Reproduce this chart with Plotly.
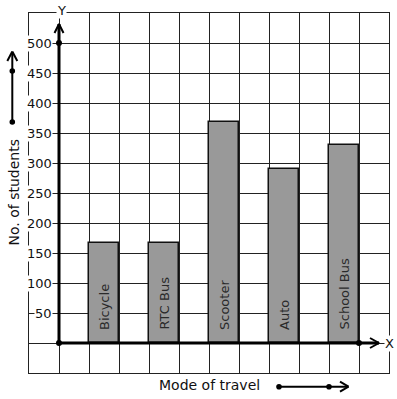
import plotly.graph_objects as go

# ---- data ----
categories = ["Bicycle", "RTC Bus", "Scooter", "Auto", "School Bus"]
students = [167, 167, 368, 290, 330]
y_tick_values = [50, 100, 150, 200, 250, 300, 350, 400, 450, 500]
y_tick_labels = ["50", "100", "150", "200", "250", "300", "350", "400", "450", "500"]
x_title = "Mode of travel"
y_title = "No. of students"

FONT = "DejaVu Sans"
W, H = 397, 399
ML, MR, MT, MB = 29, 8, 13, 26
X_RANGE = [-1, 11]
Y_RANGE = [-50, 550]

# pixel helpers (for decorations only)
pw = W - ML - MR
ph = H - MT - MB
def dx(px):
    return X_RANGE[0] + (px - ML) / pw * (X_RANGE[1] - X_RANGE[0])
def dy(py):
    return Y_RANGE[1] - (py - MT) / ph * (Y_RANGE[1] - Y_RANGE[0])
def xs(px_len):
    return px_len / pw * (X_RANGE[1] - X_RANGE[0])
def ys(px_len):
    return px_len / ph * (Y_RANGE[1] - Y_RANGE[0])
def px_(px):
    return (px - ML) / pw
def py_(py):
    return 1 - (py - MT) / ph

positions = [1.5 + 2 * i for i in range(len(categories))]

fig = go.Figure()
fig.add_trace(go.Bar(
    x=positions, y=students, width=1,
    marker=dict(color="#999999", line=dict(color="#111111", width=1.5)),
    hoverinfo="skip", showlegend=False,
))

line_kw = dict(mode="lines", hoverinfo="skip", showlegend=False, cliponaxis=False)
black = "#000000"

# y axis with arrow
y_tip = dy(24)
fig.add_trace(go.Scatter(x=[0, 0], y=[0, y_tip], line=dict(color=black, width=3), **line_kw))
fig.add_trace(go.Scatter(x=[-xs(4.5), 0, xs(4.5)], y=[y_tip - ys(9), y_tip, y_tip - ys(9)],
                         line=dict(color=black, width=2), **line_kw))
# x axis with arrow
x_tip = dx(379)
fig.add_trace(go.Scatter(x=[0, x_tip], y=[0, 0], line=dict(color=black, width=3), **line_kw))
fig.add_trace(go.Scatter(x=[x_tip - xs(9), x_tip, x_tip - xs(9)], y=[ys(5), 0, -ys(5)],
                         line=dict(color=black, width=2), **line_kw))
# dots
fig.add_trace(go.Scatter(x=[0, 0, 10], y=[0, 500, 0], mode="markers",
                         marker=dict(color=black, size=6), hoverinfo="skip",
                         showlegend=False, cliponaxis=False))

shapes = []
def seg(x0, y0, x1, y1, w=2):
    shapes.append(dict(type="line", xref="paper", yref="paper",
                       x0=px_(x0), y0=py_(y0), x1=px_(x1), y1=py_(y1),
                       line=dict(color=black, width=w), layer="above"))
def dot(x, y, r=2.8):
    shapes.append(dict(type="circle", xref="paper", yref="paper",
                       x0=px_(x - r), x1=px_(x + r), y0=py_(y + r), y1=py_(y - r),
                       fillcolor=black, line=dict(color=black, width=0), layer="above"))

# left decorative arrow
seg(12.3, 122, 12.3, 52)
seg(7.3, 61, 12.3, 51.5)
seg(17.3, 61, 12.3, 51.5)
dot(12.3, 122)
dot(12.3, 71)
# bottom decorative arrow
seg(279, 386.7, 348.5, 386.7)
seg(340, 381.7, 348.5, 386.7)
seg(340, 391.7, 348.5, 386.7)
dot(279, 386.7)
dot(329, 386.7)

annotations = []
for v, lab in zip(y_tick_values, y_tick_labels):
    annotations.append(dict(x=dx(53), y=v, xref="x", yref="y", text=lab, showarrow=False,
                            xanchor="right", yanchor="middle", bgcolor="white", borderpad=0,
                            font=dict(family=FONT, size=13, color="#111111")))
for xp, cat in zip(positions, categories):
    annotations.append(dict(x=xp, y=dy(332), xref="x", yref="y", text=cat, showarrow=False,
                            textangle=-90, xanchor="center", yanchor="bottom",
                            font=dict(family=FONT, size=13, color="#2a2a2a")))
annotations.append(dict(x=px_(61), y=py_(10), xref="paper", yref="paper", text="Y", showarrow=False,
                        xanchor="center", yanchor="middle", bgcolor="white", borderpad=0,
                        font=dict(family=FONT, size=13, color="#111111")))
annotations.append(dict(x=dx(389), y=0, xref="x", yref="y", text="X", showarrow=False,
                        xanchor="center", yanchor="middle", bgcolor="white", borderpad=0,
                        font=dict(family=FONT, size=13, color="#111111")))
annotations.append(dict(x=px_(209), y=py_(385), xref="paper", yref="paper", text=x_title,
                        showarrow=False, xanchor="center", yanchor="middle",
                        font=dict(family=FONT, size=14, color="#111111")))
annotations.append(dict(x=px_(13), y=py_(192.5), xref="paper", yref="paper", text=y_title,
                        showarrow=False, textangle=-90, xanchor="center", yanchor="middle",
                        font=dict(family=FONT, size=14, color="#111111")))

grid = "#222222"
fig.update_layout(
    width=W, height=H,
    margin=dict(l=ML, r=MR, t=MT, b=MB, pad=0),
    paper_bgcolor="white", plot_bgcolor="white",
    font=dict(family=FONT, size=13),
    xaxis=dict(range=X_RANGE, tick0=0, dtick=1, showgrid=True, gridcolor=grid, gridwidth=1,
               zeroline=False, showticklabels=False, ticks="", showline=True, mirror=True,
               linecolor=grid, linewidth=1, fixedrange=True),
    yaxis=dict(range=Y_RANGE, tick0=0, dtick=50, showgrid=True, gridcolor=grid, gridwidth=1,
               zeroline=False, showticklabels=False, ticks="", showline=True, mirror=True,
               linecolor=grid, linewidth=1, fixedrange=True),
    annotations=annotations,
    shapes=shapes,
    showlegend=False,
    bargap=0,
)

fig.write_html("out.html", config={"displayModeBar": False})
